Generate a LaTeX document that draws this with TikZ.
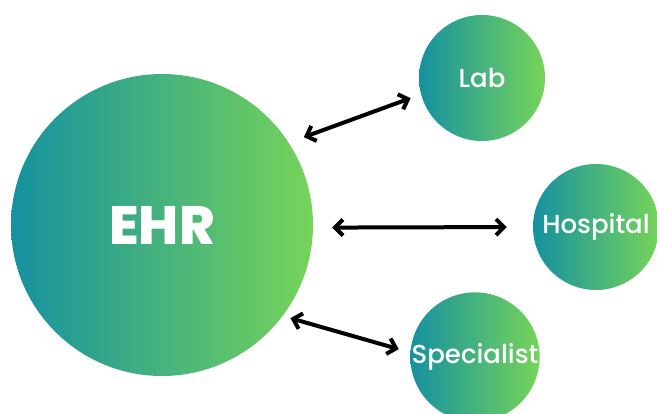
\documentclass[tikz,border=0pt]{standalone}
\usepackage{fontspec}
\setmainfont{Poppins}
\newfontfamily\labelfont{Poppins}[UprightFont=*-Medium, BoldFont=*-ExtraBold]
\usepackage{tikz}
\usetikzlibrary{arrows.meta}

\definecolor{tealend}{HTML}{1591A0}
\definecolor{midgreen}{HTML}{3DB689}
\definecolor{limeend}{HTML}{76D459}

\tikzset{
  bubble/.style={circle, inner sep=0pt, left color=tealend, middle color=midgreen,
    right color=limeend, text=white},
  link/.style={{Straight Barb[length=8pt,width=16pt]}-{Straight Barb[length=8pt,width=16pt]},
    line width=4pt, line cap=round, line join=round, black}
}

\begin{document}
\begin{tikzpicture}[x=1pt, y=1pt]
  \useasboundingbox (0,0) rectangle (657,414);

  % Central record
  \node[bubble, minimum size=302pt, font=\labelfont\fontsize{54}{54}\selectfont\bfseries] (ehr) at (162,189) {EHR};

  % Partners
  \node[bubble, minimum size=126pt, font=\labelfont\fontsize{26}{26}\selectfont] (lab) at (482,336) {Lab};
  \node[bubble, minimum size=126pt, font=\labelfont\fontsize{26}{26}\selectfont] (hospital) at (596,187) {Hospital};
  \node[bubble, minimum size=126pt, font=\labelfont\fontsize{26}{26}\selectfont] (specialist) at (475,57) {Specialist};

  % Exchange arrows
  \draw[link, shorten <=16pt, shorten >=11pt] (ehr.33) -- (lab.195);
  \draw[link, shorten <=19pt, shorten >=26pt] (ehr.-1) -- (hospital.180);
  \draw[link, shorten <=8pt, shorten >=12pt] (ehr.-37) -- (specialist.176);
\end{tikzpicture}
\end{document}
